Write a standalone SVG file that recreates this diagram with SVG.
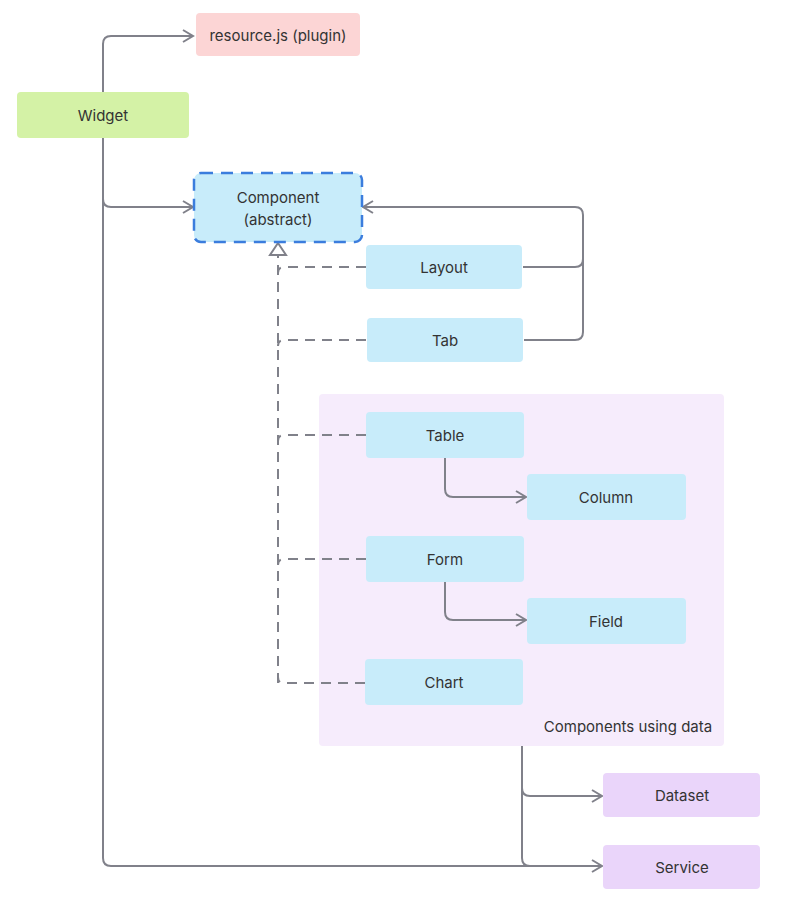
<svg xmlns="http://www.w3.org/2000/svg" width="791" height="910" viewBox="0 0 791 910">
<style>
text{font-family:Inter,"Liberation Sans",sans-serif;font-size:15px;fill:#333;text-anchor:middle;dominant-baseline:central}
.b{fill:#c8ecfa}
.c{fill:none;stroke:#80818a;stroke-width:2}
.d{fill:none;stroke:#80818a;stroke-width:2;stroke-dasharray:10 7}
</style>
<defs>
<marker id="a" markerWidth="14" markerHeight="14" refX="12" refY="7" orient="auto" markerUnits="userSpaceOnUse"><path d="M2 1 L12 7 L2 13" fill="none" stroke="#80818a" stroke-width="2"/></marker>
</defs>
<rect x="319" y="394" width="405" height="352" rx="4" fill="#f6ecfc"/>
<text x="628" y="726">Components using data</text>
<g id="connectors">
<path class="c" d="M103 92 V44 Q103 36 111 36 H193" marker-end="url(#a)"/>
<path class="c" d="M103 138 V858 Q103 866 111 866 H602" marker-end="url(#a)"/>
<path class="c" d="M103 199 Q103 207 111 207 H193" marker-end="url(#a)"/>
<path class="c" d="M523 267 H575 Q583 267 583 259 V215 Q583 207 575 207 H363" marker-end="url(#a)"/>
<path class="c" d="M524 340 H575 Q583 340 583 332 V259"/>
<path class="d" d="M278 683 V256"/>
<path d="M278 243 L270 255 H286 Z" fill="#fff" stroke="#80818a" stroke-width="2"/>
<path class="d" d="M366 267 H284 Q278 267 278 273"/>
<path class="d" d="M366 340 H284 Q278 340 278 346"/>
<path class="d" d="M366 435 H284 Q278 435 278 441"/>
<path class="d" d="M366 559 H284 Q278 559 278 565"/>
<path class="d" d="M365 683 H284 Q278 683 278 677"/>
<path class="c" d="M445 458 V489 Q445 497 453 497 H526" marker-end="url(#a)"/>
<path class="c" d="M445 582 V612 Q445 620 453 620 H526" marker-end="url(#a)"/>
<path class="c" d="M522 746 V858 Q522 866 530 866"/>
<path class="c" d="M522 788 Q522 796 530 796 H602" marker-end="url(#a)"/>
</g>
<g id="resource"><rect x="196" y="13" width="164" height="43" rx="4" fill="#fcd5d5"/><text x="278" y="35">resource.js (plugin)</text></g>
<g id="widget"><rect x="17" y="92" width="172" height="46" rx="4" fill="#d4f2a6"/><text x="103" y="115">Widget</text></g>
<g id="component"><rect x="194" y="173" width="168" height="69" rx="7" class="b" stroke="#3b7ddd" stroke-width="2.5" stroke-dasharray="12 8"/><text x="278" y="197">Component</text><text x="278" y="219">(abstract)</text></g>
<g id="layout"><rect x="366" y="245" width="156" height="44" rx="4" class="b"/><text x="444" y="267">Layout</text></g>
<g id="tab"><rect x="367" y="318" width="156" height="44" rx="4" class="b"/><text x="445" y="340">Tab</text></g>
<g id="table"><rect x="366" y="412" width="158" height="46" rx="4" class="b"/><text x="445" y="435">Table</text></g>
<g id="column"><rect x="527" y="474" width="159" height="46" rx="4" class="b"/><text x="606" y="497">Column</text></g>
<g id="form"><rect x="366" y="536" width="158" height="46" rx="4" class="b"/><text x="445" y="559">Form</text></g>
<g id="field"><rect x="527" y="598" width="159" height="46" rx="4" class="b"/><text x="606" y="621">Field</text></g>
<g id="chart"><rect x="365" y="659" width="158" height="46" rx="4" class="b"/><text x="444" y="682">Chart</text></g>
<g id="dataset"><rect x="603" y="773" width="157" height="44" rx="4" fill="#ead5fa"/><text x="682" y="795">Dataset</text></g>
<g id="service"><rect x="603" y="845" width="157" height="44" rx="4" fill="#ead5fa"/><text x="682" y="867">Service</text></g>
</svg>
